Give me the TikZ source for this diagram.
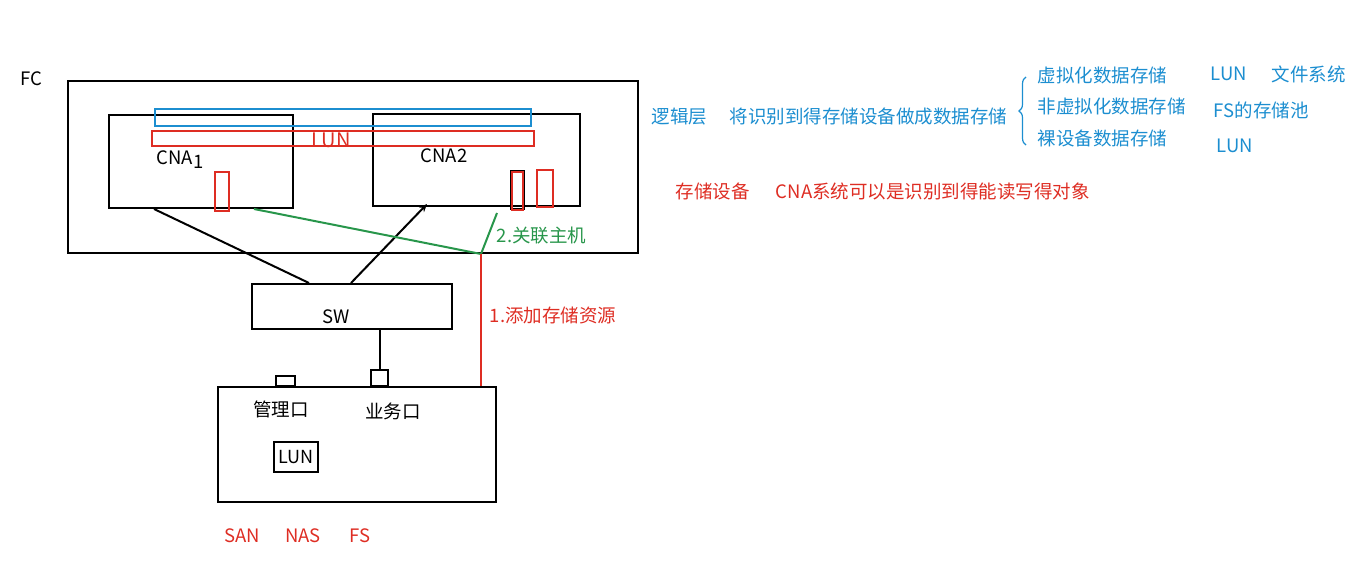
\documentclass[tikz,border=0pt]{standalone}
\usepackage{fontspec}
\setmainfont{Noto Sans CJK SC}
\usetikzlibrary{positioning,arrows.meta,decorations.pathreplacing}

\definecolor{lblue}{RGB}{28,142,208}
\definecolor{lred}{RGB}{222,45,35}
\definecolor{lgreen}{RGB}{40,150,75}

\tikzset{
  box/.style={draw, line width=2pt, inner sep=0pt},
  redbox/.style={draw=lred, line width=2pt, inner sep=0pt},
  txt/.style={inner sep=0.75pt, font=\fontsize{18.5}{20}\selectfont},
  btxt/.style={txt, text=lblue, anchor=west},
}

\begin{document}
\begin{tikzpicture}[x=1pt,y=1pt,yscale=-1,xscale=1]
\useasboundingbox (0,0) rectangle (1360,572);

%Shape: Rectangle [id:fc] 
\node[box, minimum width=570, minimum height=172] (fc) at (353,167) {};
%Shape: Rectangle [id:cna1] 
\node[box, minimum width=184, minimum height=93] (cna1) at (201,161.5) {};
%Shape: Rectangle [id:cna2] 
\node[box, minimum width=207, minimum height=92] (cna2) at (476.5,160) {};
%Shape: Rectangle [id:logic] 
\node[draw=lblue, line width=2pt, inner sep=0pt, minimum width=376, minimum height=17] (logic) at (343,117.5) {};
%Shape: Rectangle [id:lunbar] 
\node[redbox, minimum width=382, minimum height=15] (lunbar) at (343,138.5) {};
%Shape: Rectangle [id:disk1] 
\node[redbox, minimum width=14, minimum height=39] (disk1) at (222,191.5) {};
%Shape: Rectangle [id:disk2] 
\node[box, minimum width=13, minimum height=38] (disk2b) at (517,190) {};
\node[redbox, minimum width=11, minimum height=38] (disk2) at (517.5,191) {};
%Shape: Rectangle [id:disk3] 
\node[redbox, minimum width=16, minimum height=37] (disk3) at (545,188.5) {};
%Shape: Rectangle [id:sw] 
\node[box, minimum width=200, minimum height=45] (sw) at (352,306.5) {};
%Shape: Rectangle [id:store] 
\node[box, minimum width=278, minimum height=115] (store) at (357,444.5) {};
%Shape: Rectangle [id:mgmt] 
\node[box, minimum width=19, minimum height=10, anchor=south] (mgmt) at (285.5,387) {};
%Shape: Rectangle [id:biz] 
\node[box, minimum width=17, minimum height=16, anchor=south] (biz) at (379.5,387) {};
%Shape: Rectangle [id:lunbox] 
\node[box, minimum width=44, minimum height=30, font=\fontsize{18}{20}\selectfont] (lunbox) at (296,457) {LUN};

%Straight Lines [id:cna1-sw] 
\draw[line width=2pt] ([xshift=46pt]cna1.south west) -- ([xshift=58pt]sw.north west);
%Straight Lines [id:sw-cna2] 
\draw[line width=2pt, -{Stealth[length=8pt,width=7pt]}] ([xshift=100pt]sw.north west) -- ([xshift=55pt,yshift=-3pt]cna2.south west);
%Straight Lines [id:sw-biz] 
\draw[line width=2pt] (biz.north |- sw.south) -- (biz.north);
%Straight Lines [id:green] 
\coordinate (j) at ([xshift=414pt]fc.south west);
\draw[lgreen, line width=2pt] ([xshift=146pt]cna1.south west) -- (j) -- ([xshift=125pt,yshift=6pt]cna2.south west);
%Straight Lines [id:red] 
\draw[lred, line width=2pt] (j) -- (j |- store.north);

% Text Node
\node[txt] (fclbl) at (31,79) {FC};
% Text Node
\node[txt] (cna1lbl) at (180,160) {CNA\raisebox{-4pt}{1}};
% Text Node
\node[txt] (cna2lbl) at (444,156) {CNA2};
% Text Node
\node[txt, text=lred, font=\fontsize{20}{22}\selectfont] (lunlbl) at (331,140) {LUN};
% Text Node
\node[txt] (swlbl) at (336,317) {SW};
% Text Node
\node[txt] (mgmtlbl) at (281,409) {管理口};
% Text Node
\node[txt] (bizlbl) at (393,411) {业务口};
% Text Node
\node[txt, text=lred] (san) at (242,536) {SAN};
\node[txt, text=lred] (nas) at (303,536) {NAS};
\node[txt, text=lred] (fs) at (360,536) {FS};
% Text Node
\node[txt, text=lgreen, anchor=west] (assoc) at (496,236) {2.关联主机};
% Text Node
\node[txt, text=lred, anchor=west] (addres) at (489,315) {1.添加存储资源};

% Text Node
\node[btxt] (layer) at (651,117) {逻辑层};
\node[btxt] (layerdesc) at (729,117) {将识别到得存储设备做成数据存储};
\draw[lblue, line width=1.2pt, decorate, decoration={brace, amplitude=7pt, mirror}] (1026,77) -- (1026,145);
\node[btxt] (virt) at (1037,75) {虚拟化数据存储};
\node[btxt] (nonvirt) at (1037,106) {非虚拟化数据存储};
\node[btxt] (raw) at (1037,138) {裸设备数据存储};
\node[btxt] (lun1) at (1210,74) {LUN};
\node[btxt] (filesys) at (1271,74) {文件系统};
\node[btxt] (fspool) at (1213,110) {FS的存储池};
\node[btxt] (lun2) at (1216,146) {LUN};
% Text Node
\node[txt, text=lred, anchor=west] (devlbl) at (675,191) {存储设备};
\node[txt, text=lred, anchor=west] (devdesc) at (775,191) {CNA系统可以是识别到得能读写得对象};

\end{tikzpicture}
\end{document}
